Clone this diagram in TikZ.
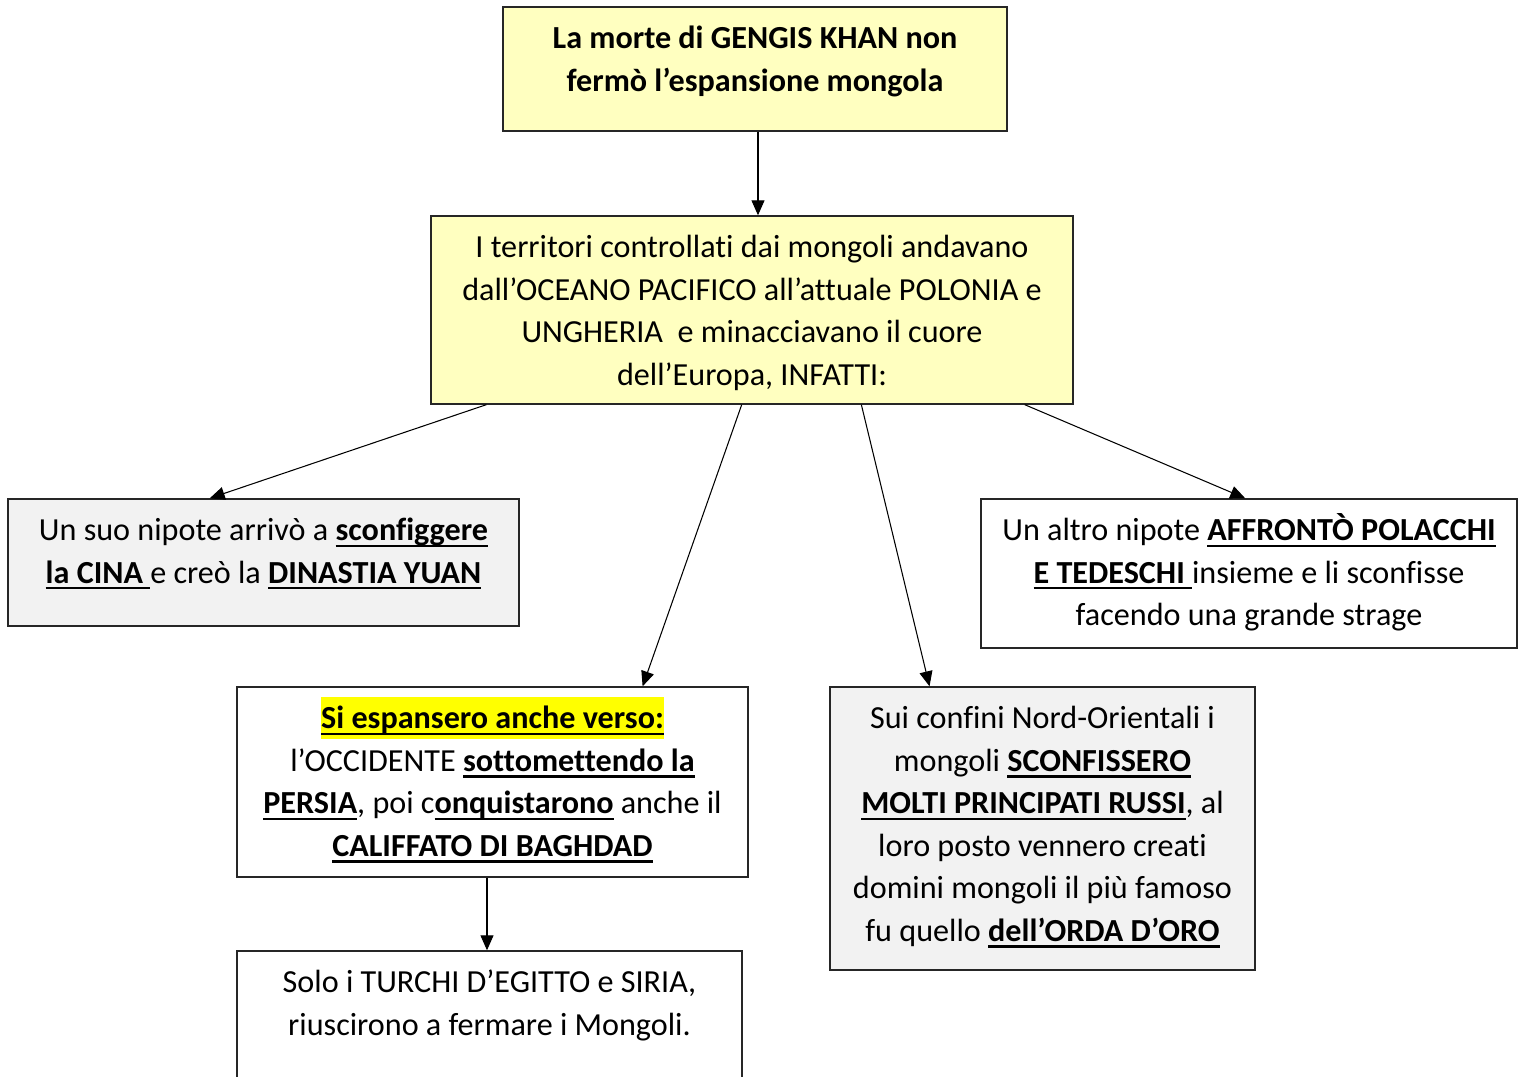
\documentclass[tikz,border=0pt]{standalone}
\usepackage{fontspec}
\setmainfont[Ligatures=NoCommon]{Carlito}
\usepackage{tikz}
\usetikzlibrary{arrows.meta,calc}
\definecolor{giallino}{HTML}{FFFFC0}
\definecolor{grigino}{HTML}{F2F2F2}
\definecolor{evid}{HTML}{FFFF00}
\setlength{\fboxsep}{0pt}
\newcommand{\sottbox}[1]{\leavevmode\setbox0\hbox{#1}\rlap{\rule[-3.6pt]{\wd0}{1.2pt}}\box0}
\newcommand{\sott}[1]{\textbf{\sottbox{#1}}}
\newcommand{\prima}{\rule{0pt}{0.84cm}}

\begin{document}
\begin{tikzpicture}[x=0.02cm, y=-0.02cm,
	scatola/.style={draw=black!85, line width=0.8pt},
	gialla/.style={scatola, fill=giallino},
	grigia/.style={scatola, fill=grigino},
	bianca/.style={scatola, fill=white},
	testo/.style={anchor=north, inner sep=0pt, align=center, font=\fontsize{18.3}{24.2}\selectfont},
	freccia/.style={-{Triangle[length=0.3cm, width=0.26cm]}, line width=0.6pt}]
	\clip (0, 0) rectangle (1525, 1077);
	\fill[white] (0, 0) rectangle (1525, 1077);
	%%
	\node[gialla, minimum width=10.08cm, minimum height=2.48cm] (morte) at (755, 69) {};
	\node[testo, font=\fontsize{18.3}{24.2}\selectfont\bfseries] (morte-t) at (morte.north) {\prima La morte di GENGIS KHAN non\\fermò l’espansione mongola};
	%%
	\node[gialla, minimum width=12.84cm, minimum height=3.76cm] (terr) at (752, 310) {};
	\node[testo] (terr-t) at (terr.north) {\prima I territori controllati dai mongoli andavano\\dall’OCEANO PACIFICO all’attuale POLONIA e\\UNGHERIA\ \ e minacciavano il cuore\\dell’Europa, INFATTI:};
	%%
	\node[grigia, minimum width=10.22cm, minimum height=2.54cm] (cina) at (263.5, 562.5) {};
	\node[testo] (cina-t) at (cina.north) {\prima Un suo nipote arrivò a \sott{sconfiggere}\\\sott{la CINA\ }e creò la \sott{DINASTIA YUAN}};
	%%
	\node[bianca, minimum width=10.72cm, minimum height=2.98cm] (polacchi) at (1249, 573.5) {};
	\node[testo] (polacchi-t) at (polacchi.north) {\prima Un altro nipote \sott{AFFRONTÒ POLACCHI}\\\sott{E TEDESCHI\ }insieme e li sconfisse\\facendo una grande strage};
	%%
	\node[bianca, minimum width=10.22cm, minimum height=3.8cm] (ovest) at (492.5, 782) {};
	\node[testo] (ovest-t) at (ovest.north) {\prima\colorbox{evid}{\rule[-0.2cm]{0pt}{0.83cm}\sott{Si espansero anche verso:}}\\l’OCCIDENTE \sott{sottomettendo la}\\\sott{PERSIA}, poi c\sott{onquistarono} anche il\\\sott{CALIFFATO DI BAGHDAD}};
	%%
	\node[grigia, minimum width=8.5cm, minimum height=5.66cm] (russi) at (1042.5, 828.5) {};
	\node[testo] (russi-t) at (russi.north) {\prima Sui confini Nord-Orientali i\\mongoli \sott{SCONFISSERO}\\\sott{MOLTI PRINCIPATI RUSSI}, al\\loro posto vennero creati\\domini mongoli il più famoso\\fu quello \sott{dell’ORDA D’ORO}};
	%%
	\node[bianca, minimum width=10.1cm, minimum height=2.98cm] (turchi) at (489.5, 1025.5) {};
	\node[testo] (turchi-t) at (turchi.north) {\prima Solo i TURCHI D’EGITTO e SIRIA,\\riuscirono a fermare i Mongoli.};
	%%
	\coordinate (m1) at ($(morte.south)+(3, 0)$);
	\draw[freccia] (m1) -- (m1 |- terr.north);
	\draw[freccia] ($(terr.south west)!0.087!(terr.south east)$) -- ($(cina.north west)!0.395!(cina.north east)$);
	\draw[freccia] ($(terr.south west)!0.484!(terr.south east)$) -- ($(ovest.north west)!0.793!(ovest.north east)$);
	\draw[freccia] ($(terr.south west)!0.670!(terr.south east)$) -- ($(russi.north west)!0.235!(russi.north east)$);
	\draw[freccia] ($(terr.south west)!0.924!(terr.south east)$) -- ($(polacchi.north west)!0.493!(polacchi.north east)$);
	\coordinate (o1) at ($(ovest.south)+(-5.5, 0)$);
	\draw[freccia] (o1) -- (o1 |- turchi.north);
\end{tikzpicture}
\end{document}
